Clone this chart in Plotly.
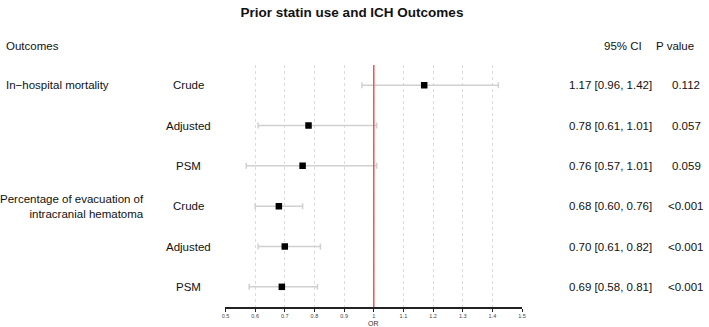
import plotly.graph_objects as go

outcomes = ["In\u2212hospital mortality", "Percentage of evacuation of<br>intracranial hematoma"]
methods = ["Crude", "Adjusted", "PSM", "Crude", "Adjusted", "PSM"]
or_vals = [1.17, 0.78, 0.76, 0.68, 0.70, 0.69]
ci_low = [0.96, 0.61, 0.57, 0.60, 0.61, 0.58]
ci_high = [1.42, 1.01, 1.01, 0.76, 0.82, 0.81]
p_vals = ["0.112", "0.057", "0.059", "<0.001", "<0.001", "<0.001"]
tick_vals = [0.5, 0.6, 0.7, 0.8, 0.9, 1.0, 1.1, 1.2, 1.3, 1.4, 1.5]
tick_text = ["0.5", "0.6", "0.7", "0.8", "0.9", "1", "1.1", "1.2", "1.3", "1.4", "1.5"]

W, H = 709, 327
ML, MR, MT, MB = 224, 524, 65, 307  # plot area pixel bounds
n = len(methods)
ypos = list(range(n, 0, -1))

FONT = "Liberation Sans, Arial, sans-serif"

fig = go.Figure()
fig.add_trace(go.Scatter(
    x=or_vals, y=ypos, mode="markers",
    marker=dict(symbol="square", size=6.5, color="black"),
    error_x=dict(type="data", symmetric=False,
                 array=[h - o for h, o in zip(ci_high, or_vals)],
                 arrayminus=[o - l for o, l in zip(or_vals, ci_low)],
                 color="#d0d0d0", thickness=1.5, width=3),
    showlegend=False, hoverinfo="skip"))

def px2x(px):
    return px / W

def py2y(py):
    return (MB - py) / (MB - MT)

ann = []
def txt(x, y, s, size=11.5, xanchor="left", align="left", color="#111"):
    ann.append(dict(x=px2x(x), y=py2y(y), xref="paper", yref="paper", text=s,
                    showarrow=False, xanchor=xanchor, yanchor="middle", align=align,
                    font=dict(family=FONT, size=size, color=color)))

txt(0, 46, "Outcomes")
txt(626, 46, "95% CI", xanchor="center")
txt(679, 46, "P value", xanchor="center")

row_px = [MB - (y - 0.5) * (MB - MT) / 6 for y in ypos]

txt(0, row_px[0], outcomes[0])
txt(144, row_px[3], outcomes[1], xanchor="right", align="right")

for i in range(n):
    txt(187, row_px[i], methods[i], xanchor="center")
    txt(613, row_px[i], f"{or_vals[i]:.2f} [{ci_low[i]:.2f}, {ci_high[i]:.2f}]", xanchor="center")
    txt(690, row_px[i], p_vals[i], xanchor="center")

# axis title
txt(374, 323.5, "OR", size=7, xanchor="center", color="#333")

fig.update_layout(
    width=W, height=H,
    margin=dict(l=0, r=0, t=MT, b=H - MB),
    plot_bgcolor="white", paper_bgcolor="white",
    title=dict(text="<b>Prior statin use and ICH Outcomes</b>", x=352 / W, xanchor="center",
               y=1 - 12 / H, yanchor="middle", font=dict(family=FONT, size=13.5, color="#111")),
    xaxis=dict(domain=[ML / W, MR / W], range=[0.5, 1.5], tickvals=tick_vals, ticktext=tick_text,
               showgrid=True, gridcolor="#dcdcdc", griddash="3px,3px", gridwidth=1,
               showline=True, linecolor="#222", linewidth=1.5,
               ticks="outside", ticklen=3, tickcolor="#222", tickwidth=1,
               tickfont=dict(family=FONT, size=5.5, color="#444"),
               zeroline=False, fixedrange=True),
    yaxis=dict(range=[0.5, 6.5], showgrid=False, showticklabels=False, zeroline=False,
               showline=False, fixedrange=True),
    annotations=ann,
    shapes=[dict(type="line", xref="x", yref="paper", x0=1, x1=1, y0=0, y1=1,
                 line=dict(color="#ff4a4a", width=1.5))],
)

fig.write_html("out.html", config={"displayModeBar": False},
               post_script="document.body.style.margin='0';document.body.style.padding='0';")
